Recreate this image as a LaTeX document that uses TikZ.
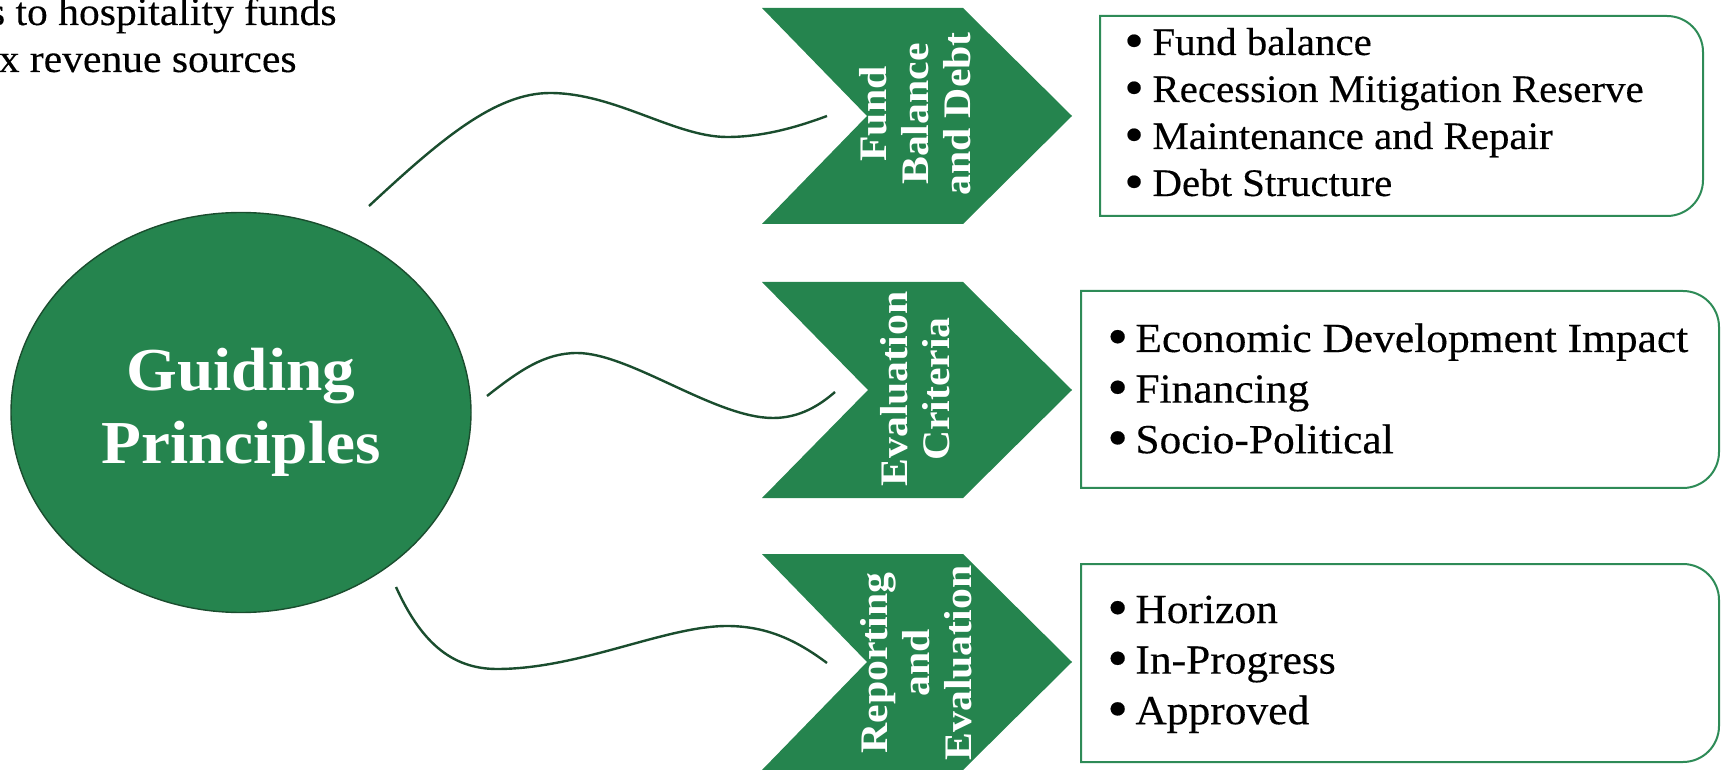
\documentclass[tikz,border=0pt]{standalone}
\usepackage{fontspec}
\setmainfont{Liberation Serif}[FakeStretch=1.05, FakeBold=0.3]
\newfontfamily\hdfont{Liberation Serif}[FakeStretch=1.07]
\usetikzlibrary{shapes.geometric}
\definecolor{gpgreen}{RGB}{37,132,78}
\definecolor{gpdark}{RGB}{26,77,46}
\definecolor{gpbox}{RGB}{46,139,87}
\newcommand{\bul}{\makebox[14pt][l]{\raisebox{-1.6pt}{\scalebox{1.35}{\textbullet}}}}
\begin{document}
\begin{tikzpicture}[x=0.5pt,y=-0.5pt,
  chev/.style={fill=gpgreen, draw=none},
  chevtext/.style={rotate=90, align=center, text=white, inner sep=0pt,
    font=\hdfont\bfseries\fontsize{19.5pt}{21pt}\selectfont},
  link/.style={draw=gpdark, line width=1.2pt},
  boxline/.style={draw=gpbox, line width=1pt},
  frame/.style={inner sep=0pt, outer sep=0pt},
  itemA/.style={anchor=base west, inner sep=0pt, font=\fontsize{19.5pt}{23.5pt}\selectfont},
  itemB/.style={anchor=base west, inner sep=0pt, font=\fontsize{20.7pt}{25.3pt}\selectfont},
  toptext/.style={anchor=base east, inner sep=0pt, font=\fontsize{19.8pt}{21pt}\selectfont}
  ]
\useasboundingbox (0,0) rectangle (1726,770);

% top-left cut text
\node[toptext] (t1) at (337,25) {s to hospitality funds};
\node[toptext] (t2) at (297,72) {x revenue sources};

% central ellipse
\node[ellipse, fill=gpgreen, draw=gpdark, line width=0.7pt, inner sep=0pt,
  minimum width=230pt, minimum height=200pt, align=center, text=white,
  font=\hdfont\bfseries\fontsize{30.5pt}{36.5pt}\selectfont] (gp) at (241,412.5) {Guiding\\Principles};

% chevrons
\fill[chev] (762,8) -- (963,8) -- (1072,116) -- (963,224) -- (762,224) -- (867,116) -- cycle;
\fill[chev] (762,282) -- (963,282) -- (1072,390) -- (963,498) -- (762,498) -- (868,390) -- cycle;
\fill[chev] (762,554) -- (963,554) -- (1072,662) -- (963,770) -- (762,770) -- (867,662) -- cycle;
\node[chevtext] (ch1) at (915,114) {Fund\\Balance\\and Debt};
\node[chevtext] (ch2) at (915,389) {Evaluation\\Criteria};
\node[chevtext] (ch3) at (916,663) {Reporting\\and\\Evaluation};

% connectors
\coordinate (c1s) at (369,206);
\coordinate (c1e) at (827,116);
\coordinate (c2s) at (487,396);
\coordinate (c2e) at (835,392);
\coordinate (c3s) at (396,587);
\coordinate (c3e) at (827,663);
\draw[link] (c1s) .. controls (440,140) and (495,93) .. (550,93)
  .. controls (615,93) and (675,137) .. (727,137)
  .. controls (765,137) and (800,126) .. (c1e);
\draw[link] (c2s) .. controls (520,370) and (545,353) .. (577,353)
  .. controls (630,353) and (715,418) .. (773,418)
  .. controls (800,418) and (820,405) .. (c2e);
\draw[link] (c3s) .. controls (420,640) and (450,669) .. (497,669)
  .. controls (580,669) and (665,626) .. (727,626)
  .. controls (770,626) and (800,643) .. (c3e);

% list boxes
\node[frame, minimum width=301.5pt, minimum height=100pt] (b1) at (1401.5,116) {};
\node[frame, minimum width=319pt, minimum height=98.5pt] (b2) at (1400,389.5) {};
\node[frame, minimum width=319pt, minimum height=99pt] (b3) at (1400,663) {};
\foreach \b in {b1,b2,b3}{
  \draw[boxline] (\b.south west) -- (\b.north west) -- ([xshift=-18pt]\b.north east)
    arc[start angle=90,end angle=0,radius=18pt] -- ([yshift=18pt]\b.south east)
    arc[start angle=0,end angle=-90,radius=18pt] -- cycle;
}

\renewcommand{\arraystretch}{1}
\node[itemA] (l1) at (1124,55) {\begin{tabular}[t]{@{}l@{}}
  \bul Fund balance\\
  \bul Recession Mitigation Reserve\\
  \bul Maintenance and Repair\\
  \bul Debt Structure
\end{tabular}};
\node[itemB] (l2) at (1107,352) {\begin{tabular}[t]{@{}l@{}}
  \bul Economic Development Impact\\
  \bul Financing\\
  \bul Socio-Political
\end{tabular}};
\node[itemB] (l3) at (1107,623) {\begin{tabular}[t]{@{}l@{}}
  \bul Horizon\\
  \bul In-Progress\\
  \bul Approved
\end{tabular}};
\end{tikzpicture}
\end{document}
